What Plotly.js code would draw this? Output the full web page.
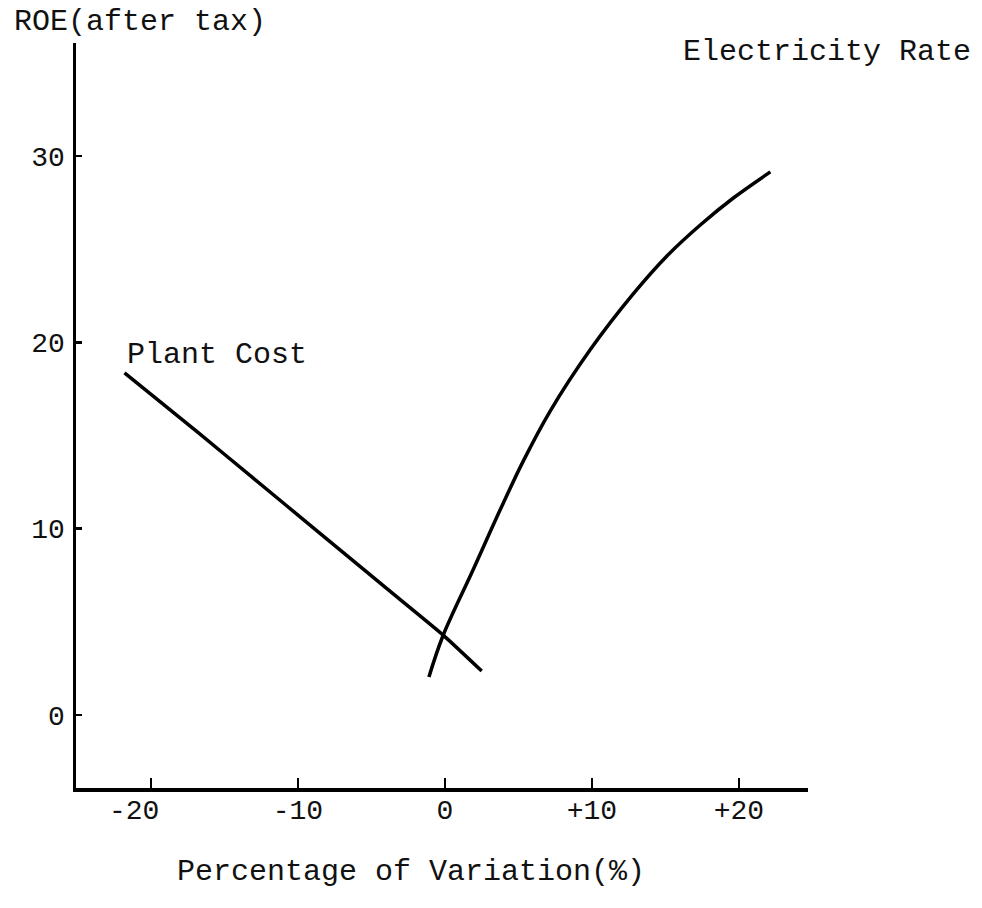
<!DOCTYPE html>
<html>
<head>
<meta charset="utf-8">
<script src="https://cdn.plot.ly/plotly-3.0.1.min.js"></script>
<style>html,body{margin:0;padding:0;background:#fff;}#chart{width:982px;height:908px;}</style>
</head>
<body>
<div id="chart"></div>
<script>
// Data
const plantCostX = [-21.8, -16.7, -13.1, -8.5, -3.95, -0.14, 2.5];
const plantCostY = [18.36, 15.1, 12.75, 9.75, 6.78, 4.3, 2.36];

const elecRateX = [-1.09, -0.14, 1.91, 3.75, 5.31, 7.15, 9.88, 12.81, 15.12, 17.37, 19.62, 22.14];
const elecRateY = [2.04, 4.24, 7.78, 11.0, 13.6, 16.3, 19.6, 22.6, 24.65, 26.3, 27.75, 29.15];

const xTickVals = [-20, -10, 0, 10, 20];
const xTickText = ["-20\u00a0\u00a0", "-10", "0", "+10", "+20"];
const yTickVals = [0, 10, 20, 30];
const yTickText = ["0", "10", "20", "30"];

const FONT = "Liberation Mono, Courier New, monospace";

const traces = [
  {x: plantCostX, y: plantCostY, mode: "lines", line: {color: "#000", width: 3.5, shape: "spline", smoothing: 0.5}, name: "Plant Cost", hoverinfo: "skip"},
  {x: elecRateX, y: elecRateY, mode: "lines", line: {color: "#000", width: 3.5, shape: "spline", smoothing: 1}, name: "Electricity Rate", hoverinfo: "skip"}
];

const layout = {
  width: 982, height: 908,
  margin: {l: 76, r: 174, t: 43, b: 120},
  paper_bgcolor: "#fff", plot_bgcolor: "#fff",
  showlegend: false,
  font: {family: FONT, color: "#111", size: 28},
  xaxis: {
    range: [-25.1, 24.7], showgrid: false, zeroline: false,
    showline: true, linecolor: "#000", linewidth: 3.5,
    tickmode: "array", tickvals: xTickVals, ticktext: xTickText,
    ticks: "inside", ticklen: 10, tickwidth: 2.5, tickcolor: "#000",
    tickfont: {family: FONT, size: 28, color: "#111"},
    ticklabelstandoff: -6,
    fixedrange: true
  },
  yaxis: {
    range: [-3.92, 36.07], showgrid: false, zeroline: false,
    showline: true, linecolor: "#000", linewidth: 3.5,
    tickmode: "array", tickvals: yTickVals, ticktext: yTickText,
    ticks: "inside", ticklen: 6, tickwidth: 2.5, tickcolor: "#000",
    tickfont: {family: FONT, size: 28, color: "#111"},
    ticklabelstandoff: 2,
    fixedrange: true
  },
  annotations: [
    {text: "ROE(after tax)", xref: "paper", yref: "paper", x: -0.0874, y: 1.028, xanchor: "left", yanchor: "middle", showarrow: false, font: {family: FONT, size: 30, color: "#111"}},
    {text: "Electricity Rate", xref: "x", yref: "y", x: 16.08, y: 35.6, xanchor: "left", yanchor: "middle", showarrow: false, font: {family: FONT, size: 30, color: "#111"}},
    {text: "Plant Cost", xref: "x", yref: "y", x: -21.8, y: 19.3, xanchor: "left", yanchor: "middle", showarrow: false, font: {family: FONT, size: 30, color: "#111"}},
    {text: "Percentage of Variation(%)", xref: "paper", yref: "paper", x: 0.4577, y: -0.1128, xanchor: "center", yanchor: "middle", showarrow: false, font: {family: FONT, size: 30, color: "#111"}}
  ]
};

Plotly.newPlot("chart", traces, layout, {displayModeBar: false, staticPlot: true});
</script>
</body>
</html>
